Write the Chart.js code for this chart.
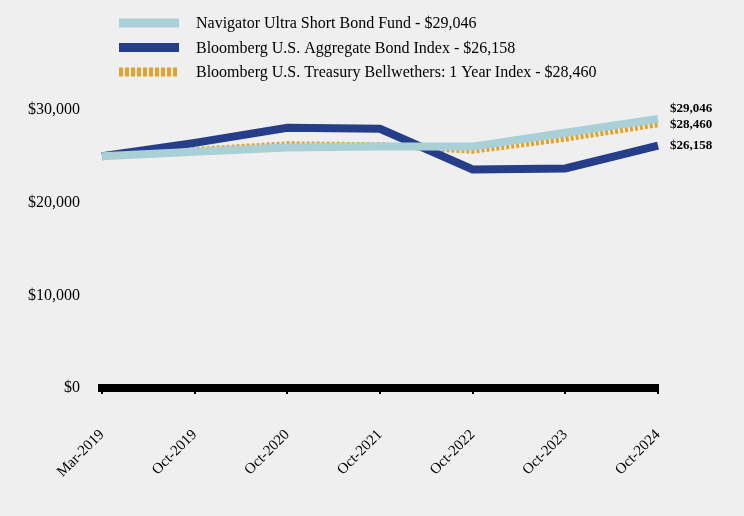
<!DOCTYPE html>
<html>
  <head>
    <script src="https://cdn.jsdelivr.net/npm/chart.js"></script>
    <style>
      body { margin: 0; background: #efefef; }
      #wrap { width: 744px; height: 516px; }
    </style>
  </head>
  <body>
    <div id="wrap"><canvas id="growth-chart" width="744" height="516"></canvas></div>
    <script>
      var periods = ['Mar-2019', 'Oct-2019', 'Oct-2020', 'Oct-2021', 'Oct-2022', 'Oct-2023', 'Oct-2024'];
      var fundValues = [25000, 25500, 25950, 26050, 26050, 27550, 29046];
      var aggregateValues = [25000, 26450, 28080, 27970, 23580, 23690, 26158];
      var treasuryValues = [25000, 25700, 26300, 26200, 25600, 26900, 28460];
      var seriesNames = [
        'Navigator Ultra Short Bond Fund - $29,046',
        'Bloomberg U.S. Aggregate Bond Index - $26,158',
        'Bloomberg U.S. Treasury Bellwethers: 1 Year Index - $28,460'
      ];
      var yTicks = [0, 10000, 20000, 30000];

      var FONT = '"Liberation Serif", "Times New Roman", serif';

      function money(v) {
        return '$' + v.toLocaleString('en-US');
      }

      // legend + end labels drawn by hand
      var extras = {
        id: 'extras',
        afterDraw: function(chart) {
          var ctx = chart.ctx;
          var sets = chart.data.datasets;
          ctx.save();
          // legend, listed in dataset order
          sets.forEach(function(ds, i) {
            var y = 23 + i * 24.5;
            ctx.strokeStyle = ds.borderColor;
            ctx.lineWidth = 9;
            ctx.setLineDash(ds.borderDash && ds.borderDash.length ? [4, 2] : []);
            ctx.beginPath();
            ctx.moveTo(119, y);
            ctx.lineTo(179, y);
            ctx.stroke();
            ctx.setLineDash([]);
            ctx.fillStyle = '#000';
            ctx.font = '16px ' + FONT;
            ctx.textBaseline = 'middle';
            ctx.textAlign = 'left';
            ctx.fillText(ds.label, 196, y + 1);
          });
          // last values at the right end
          var ys = chart.scales.y;
          var x = chart.chartArea.right + 12;
          var items = sets.map(function(ds) {
            var v = ds.data[ds.data.length - 1];
            return { v: v, y: ys.getPixelForValue(v) };
          }).sort(function(a, b) { return a.y - b.y; });
          for (var k = items.length - 2; k >= 0; k--) {
            if (items[k + 1].y - items[k].y < 16) items[k].y = items[k + 1].y - 16;
          }
          ctx.font = 'bold 13px ' + FONT;
          ctx.textBaseline = 'middle';
          items.forEach(function(it) {
            ctx.fillText(money(it.v), x, it.y);
          });
          ctx.restore();
        }
      };

      var ctx = document.getElementById('growth-chart').getContext('2d');
      var growthChart = new Chart(ctx, {
        type: 'line',
        data: {
          labels: periods,
          datasets: [{
            label: seriesNames[0],
            data: fundValues,
            borderColor: '#a8d0d6',
            borderWidth: 8,
            order: 1
          }, {
            label: seriesNames[1],
            data: aggregateValues,
            borderColor: '#263d8a',
            borderWidth: 8,
            order: 2
          }, {
            label: seriesNames[2],
            data: treasuryValues,
            borderColor: '#e3a229',
            borderWidth: 6,
            borderDash: [3, 2],
            order: 3
          }]
        },
        options: {
          responsive: false,
          animation: false,
          elements: {
            point: { radius: 0 },
            line: { tension: 0, borderCapStyle: 'butt', borderJoinStyle: 'miter' }
          },
          layout: { padding: { top: 110, right: 86, left: 0, bottom: 0 } },
          plugins: {
            legend: { display: false },
            tooltip: { enabled: false }
          },
          scales: {
            x: {
              offset: false,
              border: { display: true, color: '#000', width: 8 },
              grid: { drawOnChartArea: false, color: '#000', tickLength: 6, lineWidth: 2 },
              ticks: {
                color: '#000',
                font: { family: FONT, size: 15 },
                minRotation: 45,
                maxRotation: 45,
                padding: 32
              },
              afterFit: function(axis) { axis.height = 128; }
            },
            y: {
              min: 0,
              max: 30000,
              afterBuildTicks: function(axis) {
                axis.ticks = yTicks.map(function(v) { return { value: v }; });
              },
              afterFit: function(axis) { axis.width = 102; },
              border: { display: false },
              grid: { display: false },
              ticks: {
                color: '#000',
                font: { family: FONT, size: 16 },
                padding: 14,
                callback: function(v) { return money(v); }
              }
            }
          }
        },
        plugins: [extras]
      });
    </script>
  </body>
</html>
